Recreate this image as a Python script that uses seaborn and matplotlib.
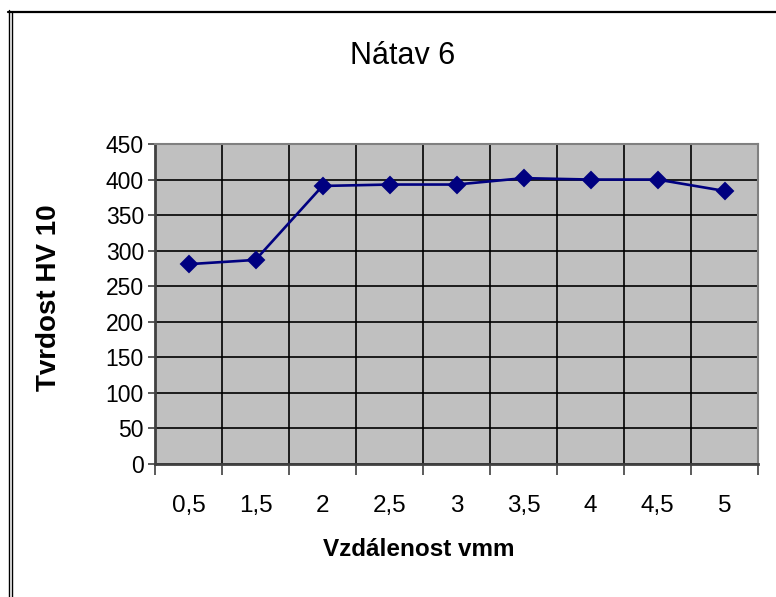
import matplotlib
matplotlib.use("Agg")
import matplotlib.pyplot as plt
from matplotlib.lines import Line2D
from matplotlib.ticker import FixedLocator, MultipleLocator
import numpy as np
import pandas as pd
import seaborn as sns

# Hardness profile across the weld bead
vzdalenost = ["0,5", "1,5", "2", "2,5", "3", "3,5", "4", "4,5", "5"]
tvrdost = [281, 287, 391, 393, 393, 402, 400, 400, 384]

title = "Nátav 6"
x_label = "Vzdálenost vmm"
y_label = "Tvrdost HV 10"

sns.set_theme(style="white")
plt.rcParams["font.family"] = ["Liberation Sans", "DejaVu Sans"]
plt.rcParams["text.color"] = "black"
plt.rcParams["xtick.color"] = "black"
plt.rcParams["ytick.color"] = "black"
plt.rcParams["axes.labelcolor"] = "black"

df = pd.DataFrame({"vzdalenost": vzdalenost, "tvrdost": tvrdost})

fig = plt.figure(figsize=(7.76, 5.97), dpi=100)
fig.patch.set_facecolor("white")
ax = fig.add_axes([155 / 776, 1 - 464 / 597, (758 - 155) / 776, (464 - 144) / 597])
ax.set_facecolor("#C0C0C0")

sns.pointplot(
    data=df, x="vzdalenost", y="tvrdost", order=vzdalenost,
    color="#000080", markers="D", linestyles="-", errorbar=None,
    markersize=8, linewidth=1.9, ax=ax,
)

n = len(vzdalenost)
ax.set_xlim(-0.5, n - 0.5)
ax.set_ylim(0, 450)
ax.yaxis.set_major_locator(MultipleLocator(50))
ax.set_xticks(range(n))
ax.set_xticklabels(vzdalenost)

# Category boundaries carry the vertical grid and the tick marks
ax.xaxis.set_minor_locator(FixedLocator(np.arange(-0.5, n, 1.0)))
ax.grid(True, axis="y", which="major", color="black", linewidth=1.2)
ax.grid(True, axis="x", which="minor", color="black", linewidth=1.2)
ax.grid(False, axis="x", which="major")
ax.set_axisbelow(True)

ax.tick_params(axis="x", which="major", length=0, pad=22, labelsize=17.5, labelcolor="black")
ax.tick_params(axis="x", which="minor", length=8, width=1.2, color="#404040", direction="out", bottom=True)
ax.tick_params(axis="y", which="major", length=5, width=1.2, color="#404040", direction="out",
               left=True, pad=3, labelsize=16.5, labelcolor="black")

for side in ("top", "right"):
    ax.spines[side].set_color("#808080")
    ax.spines[side].set_linewidth(1.5)
for side in ("left", "bottom"):
    ax.spines[side].set_color("#404040")
    ax.spines[side].set_linewidth(2.0)

ax.set_xlabel("")
ax.set_ylabel("")
fig.text(403 / 776, 1 - 56 / 597, title, ha="center", va="center", fontsize=22)
fig.text(419 / 776, 1 - 550 / 597, x_label, ha="center", va="center", fontsize=17.5, fontweight="bold")
fig.text(49 / 776, 1 - 298 / 597, y_label, ha="center", va="center", rotation=90,
         fontsize=20, fontweight="bold")

# Chart frame: double line on the left, heavy line along the top
W, H = 776, 597
def fl(x0, y0, x1, y1, lw, color="black"):
    fig.add_artist(Line2D([x0 / W, x1 / W], [1 - y0 / H, 1 - y1 / H],
                          transform=fig.transFigure, color=color, linewidth=lw))

fl(8.7, 10, 8.7, H, 1.0)
fl(11.8, 12, 11.8, H, 1.0)
fl(8, 11.5, W, 11.5, 1.6)

fig.savefig("out.png", dpi=100)
